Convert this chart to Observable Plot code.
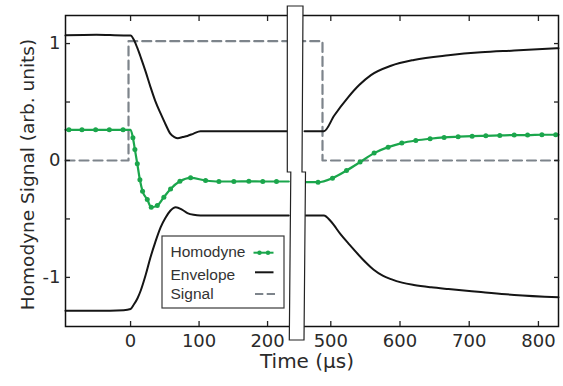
<!DOCTYPE html>
<html><head><meta charset="utf-8">
<script src="https://cdn.jsdelivr.net/npm/d3@7"></script>
<script src="https://cdn.jsdelivr.net/npm/@observablehq/plot@0.6"></script>
<style>body{margin:0;background:#fff}</style>
</head><body><div id="chart"></div>
<script>
// ---- data ----
const xDomain = [-95, 231, 462, 829];      // broken time axis (µs)
const xTicks = [0, 100, 200, 500, 600, 700, 800];
const yTicksLabeled = [-1, 0, 1];
const yTicksAll = [-1, -0.5, 0, 0.5, 1];
const yDomain = [-1.42, 1.24];

const signalT = [-95, -3, -3, 488, 488, 829];
const signalV = [0, 0, 1.02, 1.02, 0, 0];

const envUpperT = [-95, -50, -10, 0, 5, 10, 15, 22, 29, 36, 44, 51, 58, 64, 69, 76, 83, 92, 102, 130, 231,
                   462, 490, 505, 525, 541, 558, 587, 620, 670, 717, 765, 829];
const envUpperV = [1.07, 1.075, 1.07, 1.07, 1.03, 0.96, 0.88, 0.76, 0.63, 0.51, 0.40, 0.31, 0.23, 0.20, 0.19, 0.20, 0.21, 0.23, 0.25, 0.25, 0.25,
                   0.25, 0.25, 0.385, 0.54, 0.645, 0.73, 0.81, 0.86, 0.90, 0.925, 0.94, 0.96];

const envLowerT = [-95, -50, -10, 0, 5, 10, 15, 22, 29, 36, 44, 51, 58, 66, 75, 83, 92, 102, 231,
                   462, 490, 500, 514, 527, 539, 551, 562, 575, 587, 603, 620, 645, 670, 717, 765, 829];
const envLowerV = [-1.285, -1.285, -1.28, -1.27, -1.23, -1.18, -1.11, -0.98, -0.83, -0.70, -0.57, -0.49, -0.43, -0.40, -0.42, -0.45, -0.465, -0.47, -0.47,
                   -0.47, -0.47, -0.52, -0.63, -0.72, -0.80, -0.875, -0.935, -0.985, -1.015, -1.045, -1.065, -1.085, -1.10, -1.125, -1.15, -1.17];

// homodyne sample points (drawn with dots)
const homodyneT = [-90, -71, -51, -31, -11, 3.4, 6.3, 9.8, 13.6, 17.5, 24.4, 30.2, 39, 48.6, 58.4, 72, 87.6, 109.5, 129, 150.8, 172.7, 193, 213,
                   481.6, 502.4, 522.7, 542.3, 562.6, 582.8, 602.6, 622.8, 643.5, 663.7, 684, 704.2, 724, 744.2, 765, 784.3, 805, 825];
const homodyneV = [0.262, 0.262, 0.262, 0.262, 0.262, 0.195, 0.094, -0.028, -0.165, -0.263, -0.334, -0.40, -0.386, -0.314, -0.243, -0.178, -0.148, -0.171, -0.18, -0.18, -0.178, -0.18, -0.18,
                   -0.186, -0.151, -0.086, -0.014, 0.063, 0.114, 0.149, 0.171, 0.186, 0.197, 0.203, 0.208, 0.211, 0.214, 0.217, 0.217, 0.22, 0.22];
// homodyne knots without dots (line ends and bend)
const homodyneKnotT = [-95, 0, 231, 462, 829];
const homodyneKnotV = [0.262, 0.262, -0.18, -0.186, 0.22];

const legendLabels = ["Homodyne", "Envelope", "Signal"];
const xLabel = "Time (µs)";
const yLabel = "Homodyne Signal (arb. units)";

// ---- tables ----
const seg = t => (t <= xDomain[1] ? "L" : "R");
const signal = signalT.map((t, i) => ({t, v: signalV[i]}));
const envUpper = envUpperT.map((t, i) => ({t, v: envUpperV[i], s: seg(t)}));
const envLower = envLowerT.map((t, i) => ({t, v: envLowerV[i], s: seg(t)}));
const homDots = homodyneT.map((t, i) => ({t, v: homodyneV[i]}));
const homLine = homDots.concat(homodyneKnotT.map((t, i) => ({t, v: homodyneKnotV[i]})))
  .sort((a, b) => a.t - b.t).map(d => ({...d, s: seg(d.t)}));

const GREEN = "#1ba64c", GRAY = "#7d848b", INK = "#151515", TXT = "#2a2a2a";
const FONT = "DejaVu Sans";

const plot = Plot.plot({
  width: 563, height: 386,
  marginTop: 15, marginRight: 5, marginBottom: 60, marginLeft: 65,
  style: {fontFamily: FONT, color: "#222", background: "#fff"},
  x: {type: "linear", domain: xDomain, range: [65, 288.3, 304, 558]},
  y: {type: "linear", domain: yDomain},
  marks: [
    Plot.line(signal, {x: "t", y: "v", stroke: GRAY, strokeWidth: 2.2, strokeDasharray: "9,5"}),
    Plot.line(envUpper, {x: "t", y: "v", z: "s", stroke: INK, strokeWidth: 2, curve: "monotone-x"}),
    Plot.line(envLower, {x: "t", y: "v", z: "s", stroke: INK, strokeWidth: 2, curve: "monotone-x"}),
    Plot.line(homLine, {x: "t", y: "v", z: "s", stroke: GREEN, strokeWidth: 2.2, curve: "monotone-x"}),
    Plot.dot(homDots, {x: "t", y: "v", r: 2.5, fill: GREEN}),
    Plot.frame({stroke: "#111", strokeWidth: 1.5}),
    // inward ticks
    Plot.axisX({anchor: "bottom", ticks: xTicks, tickSize: 5, dy: -5, fill: "none", label: null, strokeWidth: 1.3}),
    Plot.axisX({anchor: "top", ticks: xTicks, tickSize: 5, dy: 5, fill: "none", label: null, strokeWidth: 1.3}),
    Plot.axisY({anchor: "left", ticks: yTicksAll, tickSize: 5, dx: 5, fill: "none", label: null, strokeWidth: 1.3}),
    Plot.axisY({anchor: "right", ticks: yTicksAll, tickSize: 5, dx: -5, fill: "none", label: null, strokeWidth: 1.3}),
    // labels
    Plot.axisX({anchor: "bottom", ticks: xTicks, tickSize: 0, tickPadding: 8, tickFormat: d => String(d), label: null, fontSize: 18, fill: TXT}),
    Plot.axisY({anchor: "left", ticks: yTicksLabeled, tickSize: 0, tickPadding: 5, tickFormat: d => String(d), label: null, fontSize: 18, fill: TXT}),
    Plot.text([xLabel], {text: d => d, frameAnchor: "bottom", textAnchor: "middle", lineAnchor: "middle", dy: 35, dx: -5, fontSize: 20, fill: TXT}),
    Plot.text([yLabel], {text: d => d, frameAnchor: "left", textAnchor: "middle", lineAnchor: "middle", rotate: -90, dx: -37.5, dy: 3.5, fontSize: 18.5, fill: TXT})
  ]
});
document.getElementById("chart").append(plot);

// ---- axis break (positioned through the x scale) ----
const svg = d3.select(plot);
const sx = plot.scale("x");
const bl = sx.apply(xDomain[1]), br = sx.apply(xDomain[2]);
const fTop = 15, fBot = 386 - 60, fMid = (fTop + fBot) / 2 + 1.5;
svg.append("path")
  .attr("d", `M${bl-1},${fTop-9} L${br-1},${fTop-9} L${br-2},${fMid} L${br+1.5},${fMid} L${br},${fBot+14} L${bl+1},${fBot+14} L${bl+2.5},${fMid} L${bl-1},${fMid} Z`)
  .attr("fill", "#fff").attr("stroke", "#222").attr("stroke-width", 1.2);

// ---- legend ----
const lg = svg.append("g").attr("font-family", "Liberation Sans").attr("font-size", 15.5).attr("fill", "#333").attr("text-anchor", "start");
lg.append("rect").attr("x", 162).attr("y", 236).attr("width", 122).attr("height", 72)
  .attr("fill", "#fff").attr("stroke", "#3a3a3a").attr("stroke-width", 1.2);
const rowsY = [257, 279.5, 299];
const lineY = [252.7, 272.3, 294];
legendLabels.forEach((lab, i) => {
  lg.append("text").attr("x", 170.5).attr("y", rowsY[i]).text(lab);
});
lg.append("line").attr("x1", 253.5).attr("x2", 273.5).attr("y1", lineY[0]).attr("y2", lineY[0]).attr("stroke", GREEN).attr("stroke-width", 2);
[259.5, 268].forEach(cx => lg.append("circle").attr("cx", cx).attr("cy", lineY[0]).attr("r", 2.2).attr("fill", GREEN));
lg.append("line").attr("x1", 255).attr("x2", 273.5).attr("y1", lineY[1]).attr("y2", lineY[1]).attr("stroke", INK).attr("stroke-width", 2);
lg.append("line").attr("x1", 255).attr("x2", 275).attr("y1", lineY[2]).attr("y2", lineY[2]).attr("stroke", GRAY).attr("stroke-width", 2.2).attr("stroke-dasharray", "8.3,3.4");
</script>
</body></html>
